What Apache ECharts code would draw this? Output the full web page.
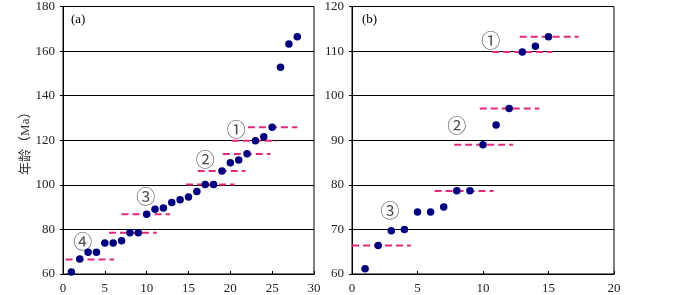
<!DOCTYPE html>
<html>
<head>
<meta charset="utf-8">
<script src="https://cdn.jsdelivr.net/npm/echarts@6/dist/echarts.min.js"></script>
<style>
  html, body { margin: 0; padding: 0; background: #fff; }
  #chart { width: 700px; height: 295px; }
</style>
</head>
<body>
<div id="chart"></div>
<script>
/** panel (a): sample index vs age */
const agesA = [60.9, 66.7, 69.8, 69.8, 73.9, 73.9, 74.9, 78.5, 78.5, 86.8, 89.0, 89.6, 92.1, 93.3,
  94.5, 97.0, 100.1, 100.1, 106.2, 109.9, 111.1, 113.9, 119.8, 121.6, 125.8, 152.7, 163.2, 166.4];
/** dashed reference levels in (a): [age, from, to] */
const levelsA = [
  [125.8, 22.1, 28.0],
  [119.8, 20.2, 25.6],
  [113.8, 19.1, 24.8],
  [106.2, 16.1, 21.8],
  [100.1, 14.7, 20.5],
  [86.8, 7.0, 12.8],
  [78.5, 5.5, 11.2],
  [66.5, 0.3, 6.1],
];
const tagsA = [["①", 20.7, 124.5], ["②", 17.0, 111.1], ["③", 9.9, 94.5], ["④", 2.35, 74.5]];

/** panel (b) */
const agesB = [61.2, 66.4, 69.7, 70.0, 73.9, 73.9, 75.0, 78.7, 78.7, 89.0, 93.4, 97.1, 109.8, 111.1, 113.2];
const levelsB = [
  [113.2, 12.8, 17.3],
  [109.8, 10.7, 15.3],
  [97.1, 9.75, 14.3],
  [89.0, 7.8, 12.3],
  [78.6, 6.3, 10.8],
  [66.4, 0.0, 4.5],
];
const tagsB = [["①", 10.6, 112.4], ["②", 8.0, 93.2], ["③", 2.9, 74.1]];

const serif = "'Liberation Serif', 'Times New Roman', 'Noto Sans CJK SC', serif";
const pink = "#e4287c";
const navy = "#00007f";

const chart = echarts.init(document.getElementById("chart"), null, { renderer: "canvas" });

/** shared axis styling */
const axisBase = {
  axisLine: { show: true, lineStyle: { color: "#000", width: 1 } },
  axisTick: { show: true, inside: true, length: 3, lineStyle: { color: "#000" } },
  axisLabel: { color: "#222", fontSize: 13, fontFamily: serif },
};

const pointsSeries = (ages, idx) => ({
  type: "scatter",
  xAxisIndex: idx,
  yAxisIndex: idx,
  symbolSize: 7.5,
  itemStyle: { color: navy, opacity: 1 },
  z: 5,
  data: ages.map((v, i) => [i + 1, v]),
});

const levelSeries = (levels, idx) =>
  levels.map(([y, x0, x1]) => ({
    type: "line",
    xAxisIndex: idx,
    yAxisIndex: idx,
    symbol: "none",
    silent: true,
    z: 3,
    lineStyle: { color: pink, width: 2, type: [7, 4] },
    data: [[x0, y], [x1, y]],
  }));

const tagSeries = (tags, idx) => ({
  type: "scatter",
  xAxisIndex: idx,
  yAxisIndex: idx,
  symbolSize: 0,
  silent: true,
  data: tags.map(([t, x, y]) => ({ value: [x, y], name: t })),
  label: {
    show: true,
    position: "inside",
    formatter: (p) => p.name,
    color: "#222",
    fontSize: 19,
    fontFamily: "'Noto Sans CJK SC', sans-serif",
  },
});

const option = {
  animation: false,
  grid: [
    { left: 63, top: 4, width: 251, height: 270, show: true, borderColor: "#000", borderWidth: 1 },
    { left: 352, top: 3, width: 262, height: 273, show: true, borderColor: "#000", borderWidth: 1 },
  ],
  title: [
    { text: "(a)", left: 66, top: 8, textStyle: { fontSize: 13, fontWeight: "normal", fontFamily: serif, color: "#000" } },
    { text: "(b)", left: 357, top: 8, textStyle: { fontSize: 13, fontWeight: "normal", fontFamily: serif, color: "#000" } },
  ],
  xAxis: [
    { ...axisBase, gridIndex: 0, type: "value", min: 0, max: 30, interval: 5, splitLine: { show: false } },
    { ...axisBase, gridIndex: 1, type: "value", min: 0, max: 20, interval: 5, splitLine: { show: false } },
  ],
  yAxis: [
    {
      ...axisBase, gridIndex: 0, type: "value", min: 60, max: 180, interval: 20,
      axisTick: { show: true, inside: false, length: 3, lineStyle: { color: "#000" } },
      splitLine: { show: true, lineStyle: { color: "#000", width: 1 } },
      name: "年龄（Ma）", nameLocation: "middle", nameGap: 29, nameRotate: 90,
      nameTextStyle: { color: "#333", fontSize: 13, fontFamily: serif },
    },
    {
      ...axisBase, gridIndex: 1, type: "value", min: 60, max: 120, interval: 10,
      axisTick: { show: true, inside: false, length: 3, lineStyle: { color: "#000" } },
      splitLine: { show: true, lineStyle: { color: "#000", width: 1 } },
    },
  ],
  series: [
    ...levelSeries(levelsA, 0),
    ...levelSeries(levelsB, 1),
    pointsSeries(agesA, 0),
    pointsSeries(agesB, 1),
    tagSeries(tagsA, 0),
    tagSeries(tagsB, 1),
  ],
};

chart.setOption(option);
</script>
</body>
</html>
